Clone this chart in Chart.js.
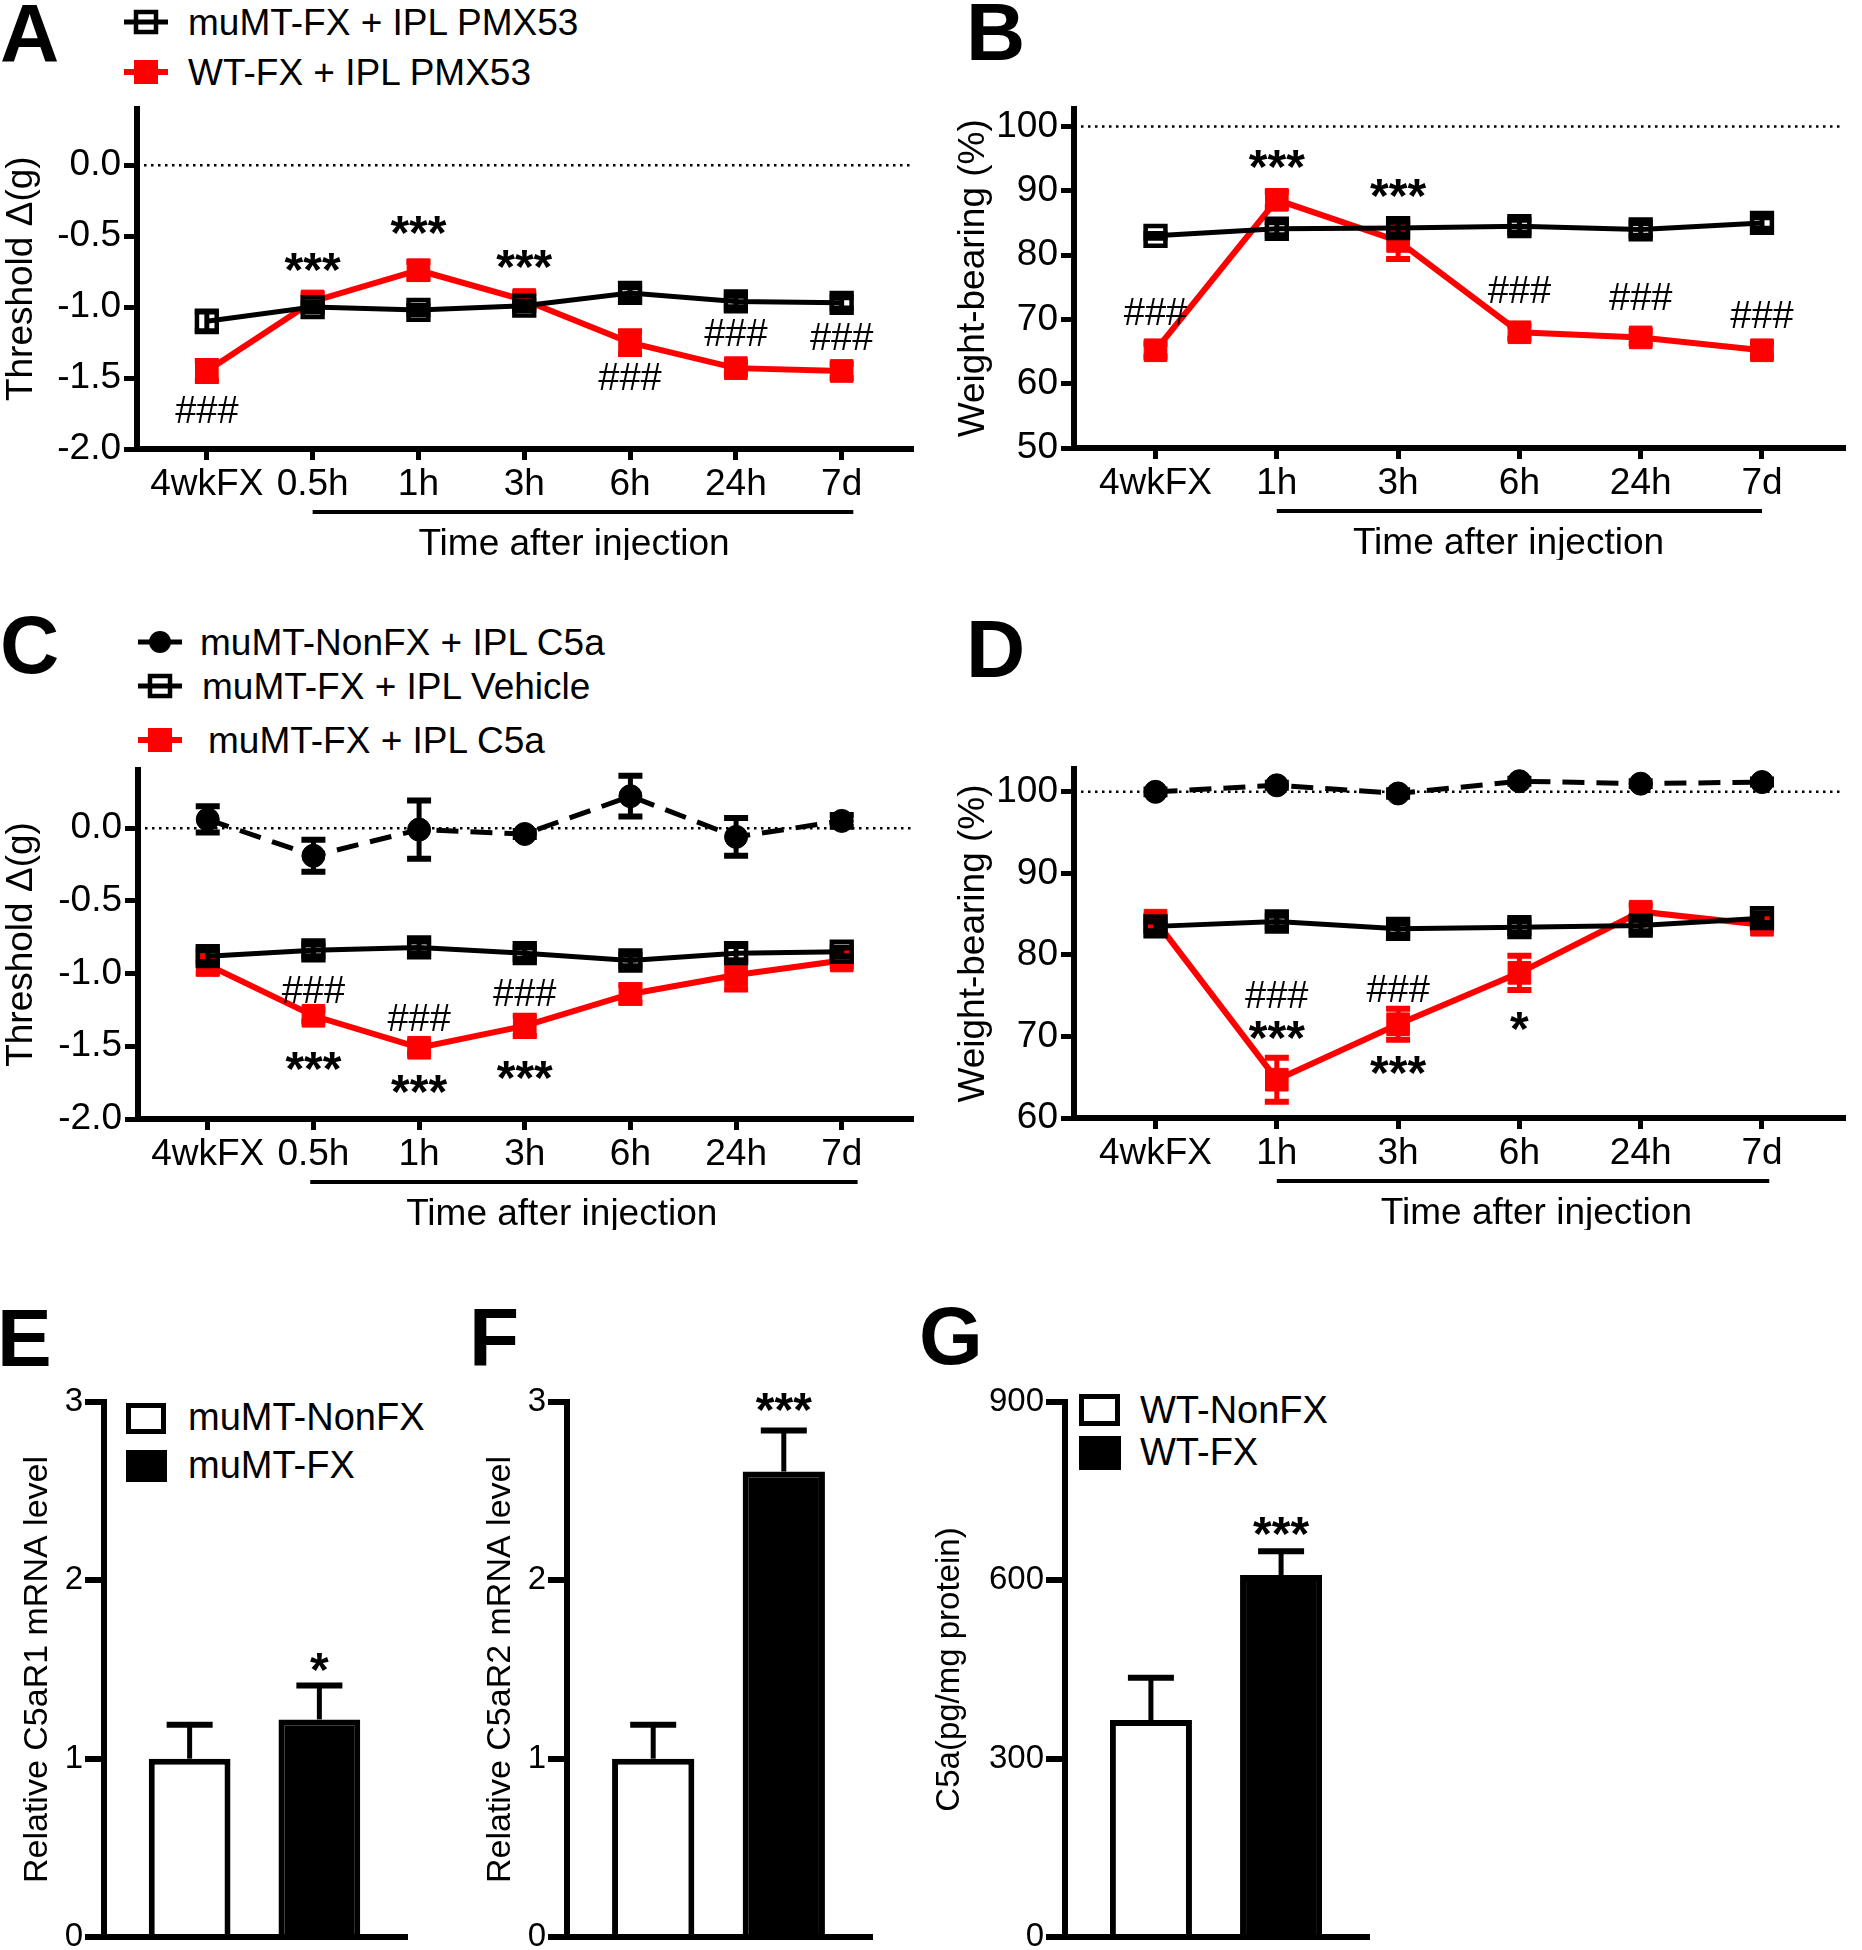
<!DOCTYPE html>
<html>
<head>
<meta charset="utf-8">
<script src="https://cdn.jsdelivr.net/npm/chart.js@4.4.1/dist/chart.umd.min.js"></script>
<style>
  html, body { margin: 0; padding: 0; background: #fff; }
  #page { position: relative; width: 1862px; height: 1950px; overflow: hidden;
          font-family: "Liberation Sans", Arial, sans-serif; color: #000; background: #fff; }
  #page canvas { position: absolute; }
  .tag { position: absolute; font-weight: bold; font-size: 82px; line-height: 1; }
  .lbl { position: absolute; line-height: 1; white-space: nowrap; }
  .box { position: absolute; box-sizing: border-box; border: 5px solid #000; }
</style>
</head>
<body>
<div id="page"></div>
<script>
// time points
const timesA = ['4wkFX', '0.5h', '1h', '3h', '6h', '24h', '7d'];
const timesB = ['4wkFX', '1h', '3h', '6h', '24h', '7d'];

// A - threshold change after IPL PMX53
const aMuMT = [-1.10, -1.00, -1.02, -0.99, -0.90, -0.96, -0.97];
const aMuMTErr = [0.07, 0.03, 0.03, 0.03, 0.04, 0.04, 0.04];
const aWT = [-1.45, -0.96, -0.74, -0.95, -1.25, -1.43, -1.45];
const aWTErr = [0.07, 0.05, 0.06, 0.05, 0.08, 0.04, 0.05];

// B - weight bearing after IPL PMX53
const bMuMT = [83.0, 84.1, 84.2, 84.5, 84.0, 85.0];
const bMuMTErr = [0.3, 1.0, 1.0, 1.0, 1.0, 0.9];
const bWT = [65.2, 88.6, 82.2, 68.0, 67.2, 65.2];
const bWTErr = [1.0, 1.2, 2.8, 1.0, 1.0, 1.0];

// C - threshold change after IPL C5a
const cNonFX = [0.06, -0.19, -0.01, -0.04, 0.22, -0.06, 0.05];
const cNonFXErr = [0.09, 0.11, 0.20, 0.02, 0.14, 0.13, 0.04];
const cVehicle = [-0.88, -0.84, -0.82, -0.86, -0.91, -0.86, -0.85];
const cVehicleErr = [0.04, 0.04, 0.04, 0.04, 0.04, 0.05, 0.03];
const cC5a = [-0.94, -1.29, -1.51, -1.36, -1.14, -1.01, -0.91];
const cC5aErr = [0.06, 0.04, 0.04, 0.07, 0.06, 0.10, 0.04];

// D - weight bearing after IPL C5a
const dNonFX = [100.0, 100.8, 99.8, 101.3, 101.0, 101.2];
const dNonFXErr = [0.3, 0.3, 0.4, 0.3, 0.3, 0.3];
const dVehicle = [83.5, 84.1, 83.2, 83.4, 83.6, 84.5];
const dVehicleErr = [0.6, 0.7, 0.7, 0.7, 0.7, 0.6];
const dC5a = [84.2, 64.7, 71.5, 77.8, 85.3, 83.7];
const dC5aErr = [0.6, 2.7, 1.9, 2.1, 0.8, 0.6];

// E-G bars
const groupsMu = ['muMT-NonFX', 'muMT-FX'];
const groupsWT = ['WT-NonFX', 'WT-FX'];
const eC5aR1 = [1.00, 1.22];
const eErr = [0.19, 0.19];
const fC5aR2 = [1.00, 2.61];
const fErr = [0.19, 0.23];
const gC5a = [365, 609];
const gErr = [71, 40];

// y tick labels
const ticksThreshold = [-2.0, -1.5, -1.0, -0.5, 0.0];
const ticksWB = [50, 60, 70, 80, 90, 100];
const ticksWB2 = [60, 70, 80, 90, 100];
const ticksRel = [0, 1, 2, 3];
const ticksC5a = [0, 300, 600, 900];

// significance marks: [time index, y value, text]
const aMarks = [[0, -1.72, '###'], [1, -0.68, '***'], [2, -0.42, '***'], [3, -0.66, '***'],
                [4, -1.49, '###'], [5, -1.18, '###'], [6, -1.21, '###']];
const bMarks = [[0, 71.3, '###'], [1, 95.0, '***'], [2, 90.4, '***'], [3, 74.7, '###'],
                [4, 73.6, '###'], [5, 70.8, '###']];
const cMarks = [[1, -1.11, '###'], [1, -1.60, '***'], [2, -1.30, '###'], [2, -1.76, '***'],
                [3, -1.13, '###'], [3, -1.66, '***']];
const dMarks = [[1, 75.2, '###'], [1, 70.8, '***'], [2, 75.9, '###'], [2, 66.5, '***'], [3, 71.9, '*']];
const eMarks = [[1, 1.54, '*']];
const fMarks = [[1, 3.0, '***']];
const gMarks = [[1, 691, '***']];

const RED = '#ff0000';
const FONT = '"Liberation Sans", Arial, sans-serif';
Chart.defaults.font.family = FONT;
Chart.defaults.color = '#000';

const page = document.getElementById('page');
const pts = vals => vals.map((v, i) => ({ x: i, y: v }));

// error bars, dotted reference line, significance marks, bracket + x title
const extras = {
  id: 'extras',
  beforeDatasetsDraw(chart, args, o) {
    if (o.refLine === undefined || o.refLine === null) return;
    const { ctx, chartArea: a } = chart;
    const py = chart.scales.y.getPixelForValue(o.refLine);
    ctx.save();
    ctx.strokeStyle = '#000';
    ctx.lineWidth = 2.5;
    ctx.setLineDash([2.5, 4.5]);
    ctx.beginPath();
    ctx.moveTo(a.left, py);
    ctx.lineTo(a.right, py);
    ctx.stroke();
    ctx.restore();
  },
  afterDatasetDraw(chart, args) {
    const ds = chart.data.datasets[args.index];
    if (!ds.errors) return;
    const ctx = chart.ctx, y = chart.scales.y;
    ctx.save();
    ctx.strokeStyle = ds.errColor;
    args.meta.data.forEach((el, i) => {
      const v = ds.data[i].y, e = ds.errors[i];
      const hi = y.getPixelForValue(v + e);
      const lo = y.getPixelForValue(ds.upOnly ? v : v - e);
      const cap = ds.capWidth / 2;
      ctx.lineWidth = ds.stemWidth;
      ctx.beginPath();
      ctx.moveTo(el.x, hi);
      ctx.lineTo(el.x, lo);
      ctx.stroke();
      ctx.lineWidth = ds.capThick;
      ctx.beginPath();
      ctx.moveTo(el.x - cap, hi);
      ctx.lineTo(el.x + cap, hi);
      if (!ds.upOnly) {
        ctx.moveTo(el.x - cap, lo);
        ctx.lineTo(el.x + cap, lo);
      }
      ctx.stroke();
    });
    ctx.restore();
  },
  afterDraw(chart, args, o) {
    const { ctx, chartArea: a } = chart;
    const x = chart.scales.x, y = chart.scales.y;
    ctx.save();
    ctx.fillStyle = '#000';
    ctx.strokeStyle = '#000';
    (o.marks || []).forEach(m => {
      const px = x.getPixelForValue(m[0]), py = y.getPixelForValue(m[1]);
      ctx.font = m[2].includes('#') ? '38px ' + FONT : 'bold 48px ' + FONT;
      ctx.textAlign = 'center';
      ctx.textBaseline = 'alphabetic';
      const mt = ctx.measureText(m[2]);
      ctx.fillText(m[2], px, py + (mt.actualBoundingBoxAscent - mt.actualBoundingBoxDescent) / 2);
    });
    if (o.underline) {
      const uy = a.bottom + 63;
      ctx.lineWidth = 4;
      ctx.beginPath();
      ctx.moveTo(x.getPixelForValue(o.underline[0]), uy);
      ctx.lineTo(x.getPixelForValue(o.underline[1]), uy);
      ctx.stroke();
    }
    if (o.xTitle) {
      ctx.font = '37px ' + FONT;
      ctx.textAlign = 'center';
      ctx.textBaseline = 'alphabetic';
      ctx.fillText(o.xTitle[0], x.getPixelForValue(o.xTitle[1]), a.bottom + 93 + 13.2);
    }
    ctx.restore();
  }
};
Chart.register(extras);

function addCanvas(b) {
  const c = document.createElement('canvas');
  c.width = b.w; c.height = b.h;
  c.style.left = b.x + 'px'; c.style.top = b.y + 'px';
  c.style.width = b.w + 'px'; c.style.height = b.h + 'px';
  page.appendChild(c);
  return c;
}

function lineSet(vals, errs, kind) {
  const base = { data: pts(vals), errors: errs, tension: 0, clip: false,
                 capWidth: 24, stemWidth: 5, capThick: 6 };
  if (kind === 'red') {
    return Object.assign(base, { borderColor: RED, borderWidth: 6, pointStyle: 'rect', pointRadius: 16,
      pointBackgroundColor: RED, pointBorderColor: RED, pointBorderWidth: 1, errColor: RED });
  }
  if (kind === 'open') {
    return Object.assign(base, { borderColor: '#000', borderWidth: 5, pointStyle: 'rect', pointRadius: 14,
      pointBackgroundColor: 'rgba(0,0,0,0)', pointBorderColor: '#000', pointBorderWidth: 4.5, errColor: '#000' });
  }
  return Object.assign(base, { borderColor: '#000', borderWidth: 5, borderDash: [22, 12], pointStyle: 'circle',
    pointRadius: 11.5, pointBackgroundColor: '#000', pointBorderColor: '#000', pointBorderWidth: 1, errColor: '#000' });
}

function linePanel(b, cats, sets, yr, yTicks, yFmt, yTitle, titlePad, extraOpts) {
  new Chart(addCanvas(b), {
    type: 'line',
    data: { datasets: sets },
    options: {
      responsive: false, animation: false, devicePixelRatio: 1, events: [],
      layout: { padding: { top: b.top, right: b.w - b.right, bottom: 0, left: 0 } },
      plugins: { legend: { display: false }, tooltip: { enabled: false }, extras: extraOpts },
      scales: {
        x: {
          type: 'linear', min: -b.pad, max: cats.length - 1 + b.pad,
          afterBuildTicks: s => { s.ticks = cats.map((_, i) => ({ value: i })); },
          afterFit: s => { s.height = b.h - b.bottom; s.paddingLeft = 0; s.paddingRight = 0; },
          ticks: { callback: v => cats[v], font: { size: 37 }, color: '#000', padding: 3,
                   autoSkip: false, maxRotation: 0 },
          grid: { drawOnChartArea: false, tickLength: 11, tickWidth: 5, tickColor: '#000', lineWidth: 5, color: '#000' },
          border: { width: 6, color: '#000' }
        },
        y: {
          min: yr[0], max: yr[1],
          afterBuildTicks: s => { s.ticks = yTicks.map(v => ({ value: v })); },
          afterFit: s => { s.width = b.left; s.paddingTop = 0; s.paddingBottom = 0; },
          ticks: { callback: yFmt, font: { size: 37 }, color: '#000', padding: 3 },
          grid: { drawOnChartArea: false, tickLength: 13, tickWidth: 5, tickColor: '#000', lineWidth: 5, color: '#000' },
          border: { width: 6, color: '#000' },
          title: { display: true, text: yTitle, font: { size: 37 }, color: '#000', padding: { top: titlePad, bottom: 0 } }
        }
      }
    }
  });
}

function barPanel(b, groups, vals, errs, yMax, yTicks, yTitle, titleSize, titlePad, marks) {
  new Chart(addCanvas(b), {
    type: 'bar',
    data: { datasets: [{
      data: pts(vals), errors: errs, upOnly: true,
      backgroundColor: ['#fff', '#000'], borderColor: '#000', borderWidth: 6, borderSkipped: 'start',
      barPercentage: 0.63, categoryPercentage: 1,
      errColor: '#000', capWidth: 46, stemWidth: 5, capThick: 6
    }] },
    options: {
      responsive: false, animation: false, devicePixelRatio: 1, events: [],
      layout: { padding: { top: b.top, right: b.w - b.right, bottom: 0, left: 0 } },
      plugins: { legend: { display: false }, tooltip: { enabled: false }, extras: { marks } },
      scales: {
        x: {
          type: 'linear', min: -0.66, max: 1.66, offset: false,
          afterBuildTicks: s => { s.ticks = groups.map((_, i) => ({ value: i })); },
          afterFit: s => { s.height = b.h - b.bottom; s.paddingLeft = 0; s.paddingRight = 0; },
          ticks: { display: false, callback: v => groups[v] },
          grid: { drawOnChartArea: false, drawTicks: false, offset: false, lineWidth: 6, color: '#000' },
          border: { width: 6, color: '#000' }
        },
        y: {
          min: 0, max: yMax,
          afterBuildTicks: s => { s.ticks = yTicks.map(v => ({ value: v })); },
          afterFit: s => { s.width = b.left; s.paddingTop = 0; s.paddingBottom = 0; },
          ticks: { font: { size: 33 }, color: '#000', padding: 2 },
          grid: { drawOnChartArea: false, tickLength: 19, tickWidth: 6, tickColor: '#000', lineWidth: 6, color: '#000' },
          border: { width: 6, color: '#000' },
          title: { display: true, text: yTitle, font: { size: titleSize }, color: '#000', padding: { top: titlePad, bottom: 0 } }
        }
      }
    }
  });
}

// panel letters and legends (HTML text)
function tag(t, x, capTop) {
  const d = document.createElement('div');
  d.className = 'tag';
  d.textContent = t;
  d.style.left = x + 'px';
  d.style.top = (capTop - 10.7) + 'px';
  page.appendChild(d);
}
function label(t, x, cy, size) {
  const d = document.createElement('div');
  d.className = 'lbl';
  d.textContent = t;
  d.style.left = x + 'px';
  d.style.top = (cy - 0.49 * size) + 'px';
  d.style.fontSize = size + 'px';
  page.appendChild(d);
}
function icon(cx, cy, kind) {
  const c = document.createElement('canvas');
  c.width = 52; c.height = 36;
  c.style.left = (cx - 26) + 'px'; c.style.top = (cy - 18) + 'px';
  page.appendChild(c);
  const g = c.getContext('2d');
  const col = kind === 'red' ? RED : '#000';
  g.strokeStyle = col; g.fillStyle = col;
  g.lineWidth = kind === 'red' ? 6 : 5;
  g.beginPath(); g.moveTo(4, 18); g.lineTo(48, 18); g.stroke();
  if (kind === 'dot') {
    g.beginPath(); g.arc(26, 18, 11, 0, Math.PI * 2); g.fill();
  } else if (kind === 'open') {
    g.lineWidth = 4.5; g.strokeRect(16, 8, 20, 20);
  } else {
    g.fillRect(14, 6, 24, 24);
  }
}
function swatch(x, y, w, h, filled) {
  const d = document.createElement('div');
  d.className = 'box';
  d.style.left = x + 'px'; d.style.top = y + 'px';
  d.style.width = w + 'px'; d.style.height = h + 'px';
  d.style.background = filled ? '#000' : '#fff';
  page.appendChild(d);
}

tag('A', 0, 3); tag('B', 966, 2); tag('C', 0, 615); tag('D', 966, 619);
tag('E', -3, 1308); tag('F', 469, 1308); tag('G', 919, 1306);

icon(146, 22, 'open'); label('muMT-FX + IPL PMX53', 188, 22, 37);
icon(146, 72, 'red'); label('WT-FX + IPL PMX53', 188, 72, 37);

icon(160, 642, 'dot'); label('muMT-NonFX + IPL C5a', 200, 642, 37);
icon(160, 686, 'open'); label('muMT-FX + IPL Vehicle', 202, 686, 37);
icon(160, 740, 'red'); label('muMT-FX + IPL C5a', 208, 740, 37);

swatch(126, 1403, 40, 31, false); label(groupsMu[0], 188, 1417, 38);
swatch(126, 1450, 41, 32, true); label(groupsMu[1], 188, 1465, 38);
swatch(1079, 1394, 41, 32, false); label(groupsWT[0], 1140, 1410, 38);
swatch(1079, 1436, 42, 34, true); label(groupsWT[1], 1140, 1452, 38);

const fmt1 = v => v.toFixed(1);
const fmt0 = v => String(v);

linePanel({ x: 0, y: 90, w: 930, h: 470, left: 137, top: 13, right: 918, bottom: 359, pad: 0.66 },
  timesA, [lineSet(aMuMT, aMuMTErr, 'open'), lineSet(aWT, aWTErr, 'red')],
  [-2.0, 0.4], ticksThreshold, fmt1, 'Threshold \u0394(g)', 0,
  { refLine: 0, marks: aMarks, underline: [1, 6.11], xTitle: ['Time after injection', 3.47] });

linePanel({ x: 930, y: 90, w: 932, h: 470, left: 144, top: 10, right: 928, bottom: 358, pad: 0.672 },
  timesB, [lineSet(bMuMT, bMuMTErr, 'open'), lineSet(bWT, bWTErr, 'red')],
  [50, 102.8], ticksWB, fmt0, 'Weight-bearing (%)', 22,
  { refLine: 100, marks: bMarks, underline: [1, 5.0], xTitle: ['Time after injection', 2.91] });

linePanel({ x: 0, y: 750, w: 930, h: 480, left: 138, top: 20, right: 919, bottom: 369, pad: 0.66 },
  timesA, [lineSet(cNonFX, cNonFXErr, 'dot'), lineSet(cVehicle, cVehicleErr, 'open'), lineSet(cC5a, cC5aErr, 'red')],
  [-2.0, 0.4], ticksThreshold, fmt1, 'Threshold \u0394(g)', 0,
  { refLine: 0, marks: cMarks, underline: [0.97, 6.15], xTitle: ['Time after injection', 3.35] });

linePanel({ x: 930, y: 750, w: 932, h: 480, left: 144, top: 19, right: 928, bottom: 368, pad: 0.672 },
  timesB, [lineSet(dNonFX, dNonFXErr, 'dot'), lineSet(dVehicle, dVehicleErr, 'open'), lineSet(dC5a, dC5aErr, 'red')],
  [60, 102.8], ticksWB2, fmt0, 'Weight-bearing (%)', 22,
  { refLine: 100, marks: dMarks, underline: [1, 5.06], xTitle: ['Time after injection', 3.14] });

barPanel({ x: 0, y: 1380, w: 470, h: 570, left: 104, top: 22, right: 405, bottom: 557 },
  groupsMu, eC5aR1, eErr, 3, ticksRel, 'Relative C5aR1 mRNA level', 34, 17, eMarks);
barPanel({ x: 470, y: 1380, w: 450, h: 570, left: 97, top: 22, right: 400, bottom: 557 },
  groupsMu, fC5aR2, fErr, 3, ticksRel, 'Relative C5aR2 mRNA level', 34, 10, fMarks);
barPanel({ x: 920, y: 1380, w: 580, h: 570, left: 145, top: 22, right: 447, bottom: 557 },
  groupsWT, gC5a, gErr, 900, ticksC5a, 'C5a(pg/mg protein)', 33, 10, gMarks);
</script>
</body>
</html>
